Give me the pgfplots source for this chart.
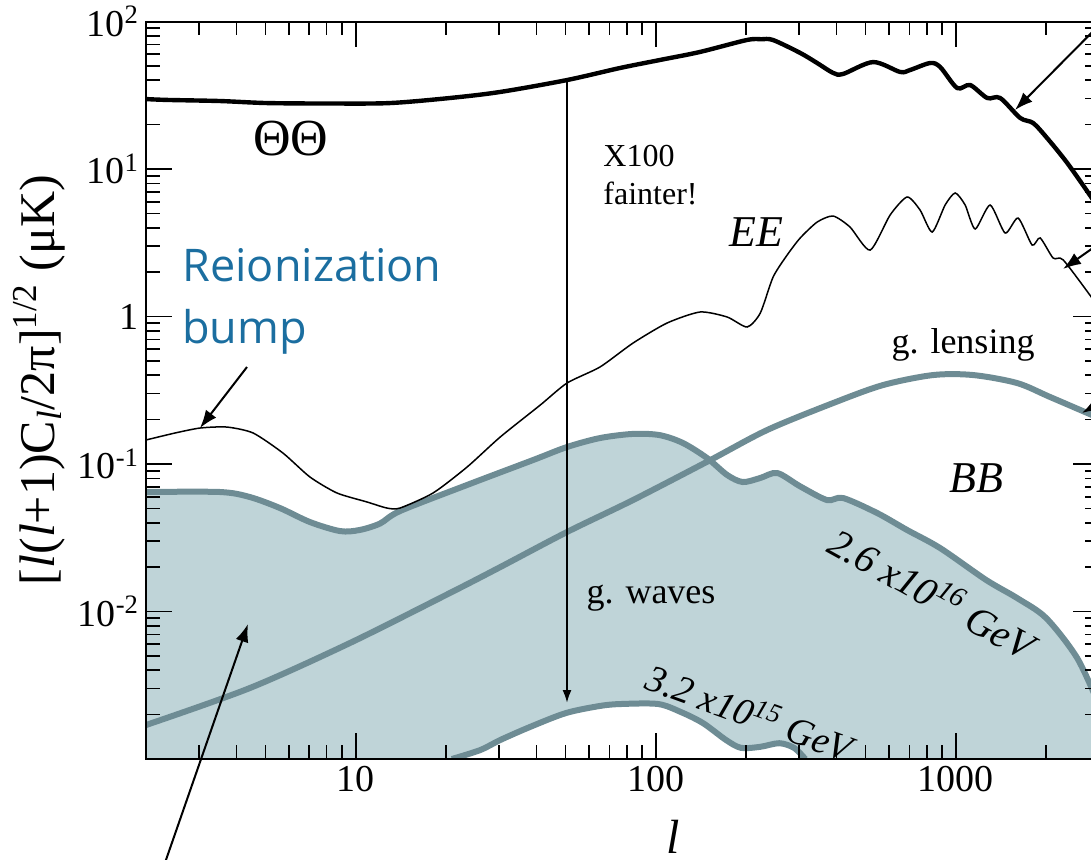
\documentclass[border=0pt]{standalone}
\usepackage{pgfplots}
\pgfplotsset{compat=1.18}
\usepackage{fontspec}
\setmainfont{Liberation Serif}
\newfontfamily\annotfont{Open Sans}
\usetikzlibrary{arrows.meta}
\definecolor{gwfill}{RGB}{191,212,216}
\definecolor{gwline}{RGB}{110,140,148}
\definecolor{reioblue}{RGB}{27,110,160}

% Temperature spectrum (Theta Theta)
\pgfplotstableread{
l   v
2.0   29.8
2.35  29.4
3.53  28.9
5.06  28.0
8.21  27.8
13.0  28.0
20.6  30.3
30.3  33.3
50.6  40.1
76.0  48.4
103   54.8
140   62.1
201   74.9
225   75.8
246   74.9
303   61.2
345   52.3
390   44.8
421   44.1
530   53.1
652   45.5
704   46.9
821   52.3
887   49.1
1010  35.4
1116  37.1
1272  30.3
1405  30.3
1638  22.2
1810  20.5
2015  16.2
2350  11.0
2825  6.46
3000  5.3
}\tabTT

% E-mode polarisation
\pgfplotstableread{
l   v
2.0   0.1455
2.50  0.1623
3.03  0.1754
3.72  0.1781
4.55  0.1623
5.72  0.1187
7.04  0.0816
8.66  0.0636
10.9  0.0553
12.7  0.0503
14.05 0.0503
18.1  0.0636
23.5  0.0954
30.3  0.1524
41.2  0.251
50.6  0.354
65.2  0.455
84.0  0.661
109   0.903
140.5 1.073
173   0.992
201.5 0.849
223   1.056
246   1.852
274   2.61
303   3.41
345   4.37
390   4.80
444   4.04
518   2.82
604   4.88
688   6.46
760   5.27
834   3.74
921   5.70
995   6.88
1074  5.70
1160  3.92
1301  5.70
1460  3.68
1613  4.65
1796  3.05
1910  3.41
2110  2.49
2279  2.42
2825  1.36
3000  1.14
}\tabEE

% B-mode from gravitational lensing
\pgfplotstableread{
l   v
2.0   0.0017
4.44  0.00303
9.57  0.00612
20.6  0.01335
30.3  0.0200
50.6  0.0346
84    0.057
152   0.1064
235   0.170
390   0.259
572   0.343
840   0.401
1142  0.401
1600  0.354
2062  0.2845
3000  0.205
}\tabLens

% B-mode from gravity waves, E = 2.6e16 GeV
\pgfplotstableread{
l   v
2.0   0.0646
3.53  0.0646
4.44  0.0597
5.59  0.0503
7.04  0.0404
8.87  0.0351
10.3  0.0357
12.05 0.0395
14.05 0.048
23.5  0.0721
39    0.1064
50.6  0.1304
65.2  0.150
84    0.160
103   0.157
123   0.139
148   0.110
173   0.0842
195   0.0755
223   0.0804
254   0.0869
303   0.0705
372   0.057
421   0.0588
547   0.0465
688   0.0357
887   0.0269
1262  0.01636
1600  0.01234
2000  0.00903
2537  0.00484
3000  0.00232
}\tabGWhi

% the same curve closed along the lower axis edge, for shading
\pgfplotstableread{
l   v
2.0   0.001
2.0   0.0646
3.53  0.0646
4.44  0.0597
5.59  0.0503
7.04  0.0404
8.87  0.0351
10.3  0.0357
12.05 0.0395
14.05 0.048
23.5  0.0721
39    0.1064
50.6  0.1304
65.2  0.150
84    0.160
103   0.157
123   0.139
148   0.110
173   0.0842
195   0.0755
223   0.0804
254   0.0869
303   0.0705
372   0.057
421   0.0588
547   0.0465
688   0.0357
887   0.0269
1262  0.01636
1600  0.01234
2000  0.00903
2537  0.00484
3000  0.00232
3000  0.001
}\tabGWfill

% B-mode from gravity waves, E = 3.2e15 GeV
\pgfplotstableread{
l   v
20.9  0.001
26    0.00115
30.3  0.001345
38.1  0.00165
50.2  0.00205
65.2  0.00229
76.6  0.00236
101.8 0.00236
121.4 0.00208
143.8 0.00175
171.5 0.001345
192.4 0.00119
223   0.00121
258   0.00128
289   0.00119
315   0.001
}\tabGWlo

\begin{document}
\begin{tikzpicture}
\path[use as bounding box] (-73pt,-50pt) rectangle (472.5pt,379.5pt);
\clip (-73pt,-50pt) rectangle (472.5pt,379.5pt);
\begin{axis}[
  at={(0pt,0pt)}, anchor=south west,
  scale only axis, width=476.5pt, height=368.75pt,
  xmode=log, ymode=log,
  xmin=2, xmax=3000, ymin=1e-3, ymax=100,
  axis on top,
  tick align=inside,
  major tick length=13pt, minor tick length=7pt,
  every tick/.style={black, line width=0.8pt},
  axis line style={line width=1pt},
  xtick={10,100,1000}, xticklabels={10,100,1000},
  ytick={0.01,0.1,1,10,100},
  yticklabels={10\textsuperscript{-2},10\textsuperscript{-1},1,10\textsuperscript{1},10\textsuperscript{2}},
  minor xtick={3,4,5,6,7,8,9,20,30,40,50,60,70,80,90,200,300,400,500,600,700,800,900,2000},
  minor ytick={0.002,0.003,0.004,0.005,0.006,0.007,0.008,0.009,
               0.02,0.03,0.04,0.05,0.06,0.07,0.08,0.09,
               0.2,0.3,0.4,0.5,0.6,0.7,0.8,0.9,
               2,3,4,5,6,7,8,9,20,30,40,50,60,70,80,90},
  tick label style={font=\fontsize{19}{19}\selectfont},
]
% shaded region under the upper gravity-wave curve
\addplot[fill=gwfill, draw=none] table[x=l,y=v] {\tabGWfill};
% region under the lower gravity-wave curve left white
\addplot[fill=white, draw=none] table[x=l,y=v] {\tabGWlo};
\addplot[gwline, line width=3pt, smooth, tension=0.5] table[x=l,y=v] {\tabGWhi};
\addplot[gwline, line width=3pt, smooth, tension=0.5] table[x=l,y=v] {\tabGWlo};
\addplot[gwline, line width=3pt, smooth, tension=0.5] table[x=l,y=v] {\tabLens};
\addplot[black, line width=0.75pt, smooth, tension=0.4] table[x=l,y=v] {\tabEE};
\addplot[black, line width=2.2pt, smooth, tension=0.5] table[x=l,y=v] {\tabTT};
\end{axis}

\begin{scope}[x=0.5pt,y=-0.5pt,shift={(-146,-759)}]
\node[font=\fontsize{26}{26}\selectfont] at (291,139) {ΘΘ};
\node[font=\fontsize{16}{19}\selectfont, align=left, anchor=north west, inner sep=0] at (603,145) {X100\\fainter!};
\node[font=\itshape\fontsize{22}{22}\selectfont] at (756,232) {EE};
\node[font=\itshape\fontsize{22}{22}\selectfont] at (976,478) {BB};
\node[font=\fontsize{18}{18}\selectfont] at (963,345) {g. lensing};
\node[font=\fontsize{18}{18}\selectfont] at (651,598) {g. waves};
\node[font=\itshape\fontsize{20}{20}\selectfont, rotate=-29] at (933,592) {2.6 x10\textsuperscript{16} GeV};
\node[font=\itshape\fontsize{19}{19}\selectfont, rotate=-20] at (750,712) {3.2 x10\textsuperscript{15} GeV};
\node[font=\annotfont\fontsize{22.5}{31}\selectfont, text=reioblue, align=left, anchor=north west, inner sep=0] at (182,248) {Reionization\\bump};
\node[rotate=90, font=\fontsize{25}{25}\selectfont] at (39,380) {[\textit{l}(\textit{l}+1)C\textsubscript{\textit{l}}/2π]\textsuperscript{1/2} (μK)};
\node[font=\itshape\fontsize{24}{24}\selectfont] at (673,837) {l};

\draw[line width=1pt, -{Latex[length=6.5pt,width=4.5pt]}] (567,79) -- (567,703);
\draw[line width=1pt, -{Latex[length=9pt,width=6.5pt]}] (1125,-1) -- (1015,110);
\draw[line width=1pt, -{Latex[length=9pt,width=6.5pt]}] (1120,229) -- (1063,269);
\draw[line width=1pt, -{Latex[length=9pt,width=6.5pt]}] (1115,394) -- (1082,413);
\draw[line width=1pt, -{Latex[length=9pt,width=6.5pt]}] (247,367) -- (200,428);
\draw[line width=1pt, -{Latex[length=9pt,width=6.5pt]}] (159,880) -- (248,624);
\end{scope}
\end{tikzpicture}
\end{document}
